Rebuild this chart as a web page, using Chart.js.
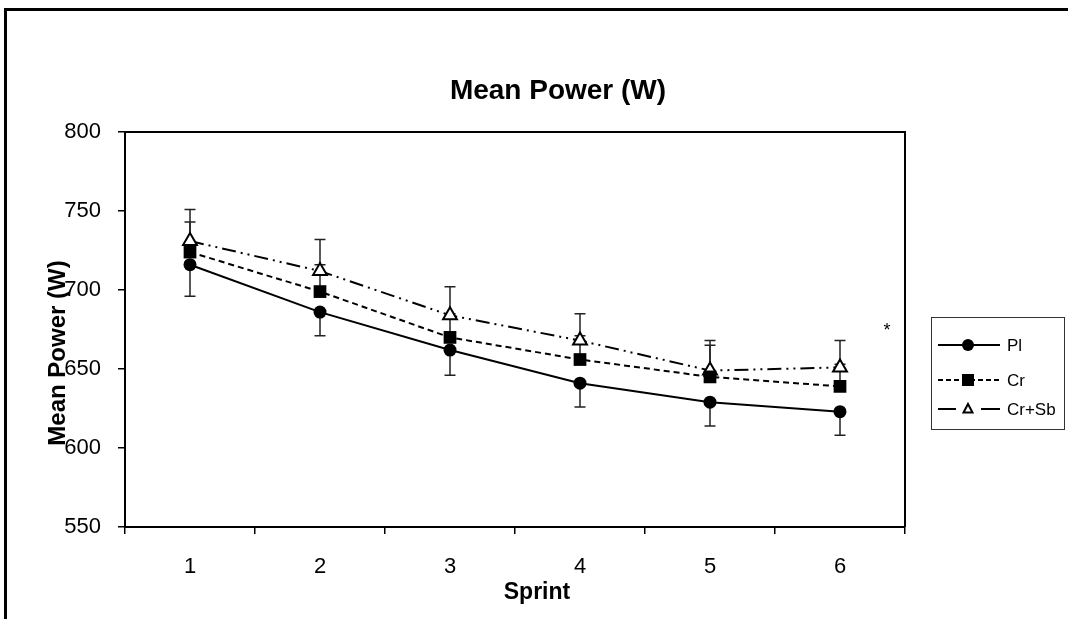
<!DOCTYPE html>
<html>
<head>
<meta charset="utf-8">
<script src="https://cdn.jsdelivr.net/npm/chart.js@4.4.1/dist/chart.umd.min.js"></script>
<style>
  html, body { margin: 0; padding: 0; background: #fff; }
  #wrap { width: 1068px; height: 619px; }
</style>
</head>
<body>
<div id="wrap"><canvas id="c" width="1068" height="619"></canvas></div>
<script>
// ---- Data ----
const sprints = ['1', '2', '3', '4', '5', '6'];
const plValues = [716, 686, 662, 641, 629, 623];
const crValues = [724, 699, 670, 656, 645, 639];
const crSbValues = [731, 712, 684, 668, 649, 651];
// error bars (Pl shown downward, Cr and Cr+Sb shown upward)
const plErrMinus = [20, 15, 16, 15, 15, 15];
const crErrPlus = [19, 17, 15, 15, 20, 14];
const crSbErrPlus = [20, 20, 18, 17, 19, 17];
const seriesNames = ['Pl', 'Cr', 'Cr+Sb'];
const yTicks = [550, 600, 650, 700, 750, 800];

const FONT = '"Liberation Sans", Arial, sans-serif';

const errorBarPlugin = {
  id: 'errorBars',
  beforeDatasetsDraw(chart) {
    const ctx = chart.ctx;
    const xs = chart.scales.x, ys = chart.scales.y;
    const specs = [
      { vals: plValues, err: plErrMinus, dir: -1 },
      { vals: crValues, err: crErrPlus, dir: 1 },
      { vals: crSbValues, err: crSbErrPlus, dir: 1 }
    ];
    ctx.save();
    ctx.strokeStyle = '#222';
    ctx.lineWidth = 1.5;
    specs.forEach(s => {
      s.vals.forEach((v, i) => {
        const x = xs.getPixelForValue(i);
        const y0 = ys.getPixelForValue(v);
        const y1 = ys.getPixelForValue(v + s.dir * s.err[i]);
        ctx.beginPath();
        ctx.moveTo(x, y0); ctx.lineTo(x, y1);
        ctx.moveTo(x - 5.5, y1); ctx.lineTo(x + 5.5, y1);
        ctx.stroke();
      });
    });
    ctx.restore();
  }
};

const decorPlugin = {
  id: 'decor',
  beforeDraw(chart) {
    const ctx = chart.ctx;
    ctx.save();
    ctx.fillStyle = '#fff';
    ctx.fillRect(0, 0, chart.width, chart.height);
    // outer frame
    ctx.fillStyle = '#000';
    ctx.fillRect(4, 8, 1064, 3);
    ctx.fillRect(4, 8, 3, 611);
    ctx.restore();
  },
  afterDraw(chart) {
    const ctx = chart.ctx;
    const a = chart.chartArea;
    ctx.save();
    // plot area top & right border
    ctx.strokeStyle = '#000';
    ctx.lineWidth = 2;
    ctx.beginPath();
    ctx.moveTo(a.left, a.top); ctx.lineTo(a.right, a.top); ctx.lineTo(a.right, a.bottom);
    ctx.stroke();

    ctx.fillStyle = '#000';
    // chart title
    ctx.font = 'bold 28px ' + FONT;
    ctx.textAlign = 'center';
    ctx.textBaseline = 'alphabetic';
    ctx.fillText('Mean Power (W)', 558, 99);
    // x axis title
    ctx.font = 'bold 23px ' + FONT;
    ctx.fillText('Sprint', 537, 599);
    // y axis title (rotated)
    ctx.save();
    ctx.translate(58, 353);
    ctx.rotate(-Math.PI / 2);
    ctx.textBaseline = 'middle';
    ctx.font = 'bold 24px ' + FONT;
    ctx.fillText('Mean Power (W)', 0, 0);
    ctx.restore();

    // asterisk
    ctx.font = '18px ' + FONT;
    ctx.textAlign = 'center';
    ctx.textBaseline = 'middle';
    ctx.fillText('*', 887, 331);

    // legend
    ctx.strokeStyle = '#333';
    ctx.lineWidth = 1;
    ctx.strokeRect(931.5, 317.5, 133, 112);
    const rows = [345, 380, 409];
    ctx.strokeStyle = '#000';
    ctx.lineWidth = 2;
    // Pl
    ctx.setLineDash([]);
    ctx.beginPath(); ctx.moveTo(938, rows[0]); ctx.lineTo(1000, rows[0]); ctx.stroke();
    ctx.beginPath(); ctx.arc(968, rows[0], 6, 0, Math.PI * 2); ctx.fill();
    // Cr
    ctx.setLineDash([5, 3]);
    ctx.beginPath(); ctx.moveTo(938, rows[1]); ctx.lineTo(1000, rows[1]); ctx.stroke();
    ctx.setLineDash([]);
    ctx.fillRect(962, rows[1] - 6, 12, 12);
    // Cr+Sb
    ctx.beginPath();
    ctx.moveTo(938, rows[2]); ctx.lineTo(956, rows[2]);
    ctx.moveTo(981, rows[2]); ctx.lineTo(1000, rows[2]);
    ctx.stroke();
    ctx.beginPath();
    ctx.moveTo(968, rows[2] - 5); ctx.lineTo(972.5, rows[2] + 3.5); ctx.lineTo(963.5, rows[2] + 3.5); ctx.closePath();
    ctx.fillStyle = '#fff'; ctx.fill();
    ctx.stroke();
    ctx.fillStyle = '#000';
    ctx.font = '17px ' + FONT;
    ctx.textAlign = 'left';
    ctx.textBaseline = 'middle';
    seriesNames.forEach((n, i) => ctx.fillText(n, 1007, rows[i] + 1));
    ctx.restore();
  }
};

new Chart(document.getElementById('c'), {
  type: 'line',
  data: {
    labels: sprints,
    datasets: [
      {
        label: seriesNames[2], data: crSbValues,
        borderColor: '#000', borderWidth: 2, borderDash: [14, 5, 2, 5, 2, 5],
        pointStyle: 'triangle', pointRadius: 8, pointBackgroundColor: '#fff',
        pointBorderColor: '#000', pointBorderWidth: 2, tension: 0, order: 3
      },
      {
        label: seriesNames[1], data: crValues,
        borderColor: '#000', borderWidth: 2, borderDash: [6, 4],
        pointStyle: 'rect', pointRadius: 9, pointBackgroundColor: '#000',
        pointBorderColor: '#000', pointBorderWidth: 0, tension: 0, order: 2
      },
      {
        label: seriesNames[0], data: plValues,
        borderColor: '#000', borderWidth: 2,
        pointStyle: 'circle', pointRadius: 6.5, pointBackgroundColor: '#000',
        pointBorderColor: '#000', pointBorderWidth: 0, tension: 0, order: 1
      }
    ]
  },
  options: {
    responsive: false,
    animation: false,
    devicePixelRatio: 1,
    layout: { padding: { left: 0, top: 132, right: 163, bottom: 0 } },
    plugins: { legend: { display: false }, title: { display: false }, tooltip: { enabled: false } },
    scales: {
      x: {
        type: 'category',
        offset: true,
        grid: { display: true, drawOnChartArea: false, drawTicks: true, tickLength: 7, color: '#000', lineWidth: 1.5, offset: true },
        border: { display: true, color: '#000', width: 2 },
        ticks: { color: '#000', font: { family: FONT, size: 22 }, padding: 20, maxRotation: 0 },
        afterFit(s) { s.height = 92; }
      },
      y: {
        min: 550, max: 800,
        afterBuildTicks(s) { s.ticks = yTicks.map(v => ({ value: v })); },
        grid: { display: true, drawOnChartArea: false, drawTicks: true, tickLength: 7, color: '#000', lineWidth: 1.5 },
        border: { display: true, color: '#000', width: 2 },
        ticks: { color: '#000', font: { family: FONT, size: 22 }, padding: 17 },
        afterFit(s) { s.width = 125; }
      }
    }
  },
  plugins: [errorBarPlugin, decorPlugin]
});
</script>
</body>
</html>
